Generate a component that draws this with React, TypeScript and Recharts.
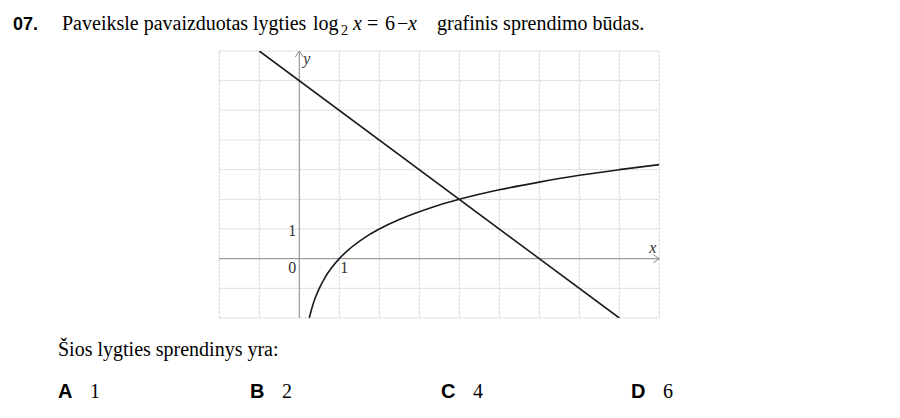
import { LineChart, Line, XAxis, YAxis, CartesianGrid, ReferenceLine, ReferenceDot } from 'recharts'

// grid / axis ticks
const xTicks = [-1, 0, 1, 2, 3, 4, 5, 6, 7, 8]
const yTicks = [-1, 0, 1, 2, 3, 4, 5, 6]

// y = 6 - x at its ends
const lineX = [-1, 8]
const lineY = [7, -2]

// y = log2 x
const logX = [0.25, 0.3, 0.35, 0.4, 0.5, 0.6, 0.7, 0.8, 1, 1.25, 1.5, 1.75, 2, 2.5, 3, 3.5, 4, 5, 6, 7, 8, 9]
const logY = [-2, -1.74, -1.51, -1.32, -1, -0.74, -0.51, -0.32, 0, 0.32, 0.58, 0.81, 1, 1.32, 1.58, 1.81, 2, 2.32, 2.58, 2.81, 3, 3.17]

const optionLetters = ['A', 'B', 'C', 'D']
const optionValues = ['1', '2', '4', '6']
const optionLeft = [58, 250, 441, 631]

const lineData = lineX.map((x, i) => ({ x, y: lineY[i] }))
const logData = logX.map((x, i) => ({ x, y: logY[i] }))

const serif = '"Liberation Serif", "Times New Roman", serif'
const sans = '"Liberation Sans", Arial, sans-serif'
const axisColor = '#8c8c8c'

const arrowUp = (p: any) => (
  <path d={`M${p.cx - 4},${p.cy + 6} L${p.cx},${p.cy} L${p.cx + 4},${p.cy + 6}`} fill='none' stroke={axisColor} strokeWidth={1} />
)
const arrowRight = (p: any) => (
  <path d={`M${p.cx - 6},${p.cy - 4} L${p.cx},${p.cy} L${p.cx - 6},${p.cy + 4}`} fill='none' stroke={axisColor} strokeWidth={1} />
)
const label = (text: string, dx: number, dy: number, italic = false, anchor = 'start') => (p: any) => (
  <text x={p.cx + dx} y={p.cy + dy} fontFamily={serif} fontSize={16} fontStyle={italic ? 'italic' : 'normal'} textAnchor={anchor} fill='#333'>
    {text}
  </text>
)

export default function App () {
  return (
    <div style={{ position: 'relative', width: 900, height: 418, background: '#fff', overflow: 'hidden' }}>
      <style>{'body{margin:0}'}</style>
      <LineChart
        width={900}
        height={418}
        margin={{ top: 51, right: 240.7, bottom: 100, left: 219.3 }}
        style={{ position: 'absolute', left: 0, top: 0 }}
      >
        <CartesianGrid stroke='#d6d6d6' strokeDasharray='3 1' />
        <XAxis type='number' dataKey='x' domain={[-2, 9]} ticks={xTicks} hide allowDataOverflow />
        <YAxis type='number' dataKey='y' domain={[-2, 7]} ticks={yTicks} hide allowDataOverflow />
        <ReferenceLine x={0} stroke={axisColor} strokeWidth={1} />
        <ReferenceLine y={0} stroke={axisColor} strokeWidth={1} />
        <ReferenceDot x={0} y={7} ifOverflow='visible' shape={arrowUp} />
        <ReferenceDot x={9} y={0} ifOverflow='visible' shape={arrowRight} />
        <ReferenceDot x={0} y={7} ifOverflow='visible' shape={label('y', 4, 13, true)} />
        <ReferenceDot x={9} y={0} ifOverflow='visible' shape={label('x', -10, -6, true)} />
        <ReferenceDot x={0} y={0} ifOverflow='visible' shape={label('0', -11, 14)} />
        <ReferenceDot x={1} y={0} ifOverflow='visible' shape={label('1', 1, 14)} />
        <ReferenceDot x={0} y={1} ifOverflow='visible' shape={label('1', -3, 7, false, 'end')} />
        <Line data={lineData} dataKey='y' type='linear' stroke='#1a1a1a' strokeWidth={1.6} dot={false} isAnimationActive={false} />
        <Line data={logData} dataKey='y' type='monotone' stroke='#1a1a1a' strokeWidth={1.6} dot={false} isAnimationActive={false} />
      </LineChart>
      <svg width={900} height={418} style={{ position: 'absolute', left: 0, top: 0, pointerEvents: 'none' }}>
        <text x={13} y={30} fontFamily={sans} fontWeight='bold' fontSize={18} fill='#000'>07.</text>
        <text x={62} y={30} fontFamily={serif} fontSize={20} fill='#000'>Paveiksle pavaizduotas lygties</text>
        <text x={313} y={30} fontFamily={serif} fontSize={20} fill='#000'>log</text>
        <text x={341} y={35} fontFamily={serif} fontSize={14} fill='#000'>2</text>
        <text x={353} y={30} fontFamily={serif} fontSize={20} fontStyle='italic' fill='#000'>x</text>
        <text x={367} y={30} fontFamily={serif} fontSize={20} fill='#000'>=</text>
        <text x={385} y={30} fontFamily={serif} fontSize={20} fill='#000'>6</text>
        <text x={397} y={30} fontFamily={serif} fontSize={20} fill='#000'>−</text>
        <text x={408} y={30} fontFamily={serif} fontSize={20} fontStyle='italic' fill='#000'>x</text>
        <text x={437} y={30} fontFamily={serif} fontSize={20} fill='#000'>grafinis sprendimo būdas.</text>
        <text x={58} y={356} fontFamily={serif} fontSize={20} fill='#000'>Šios lygties sprendinys yra:</text>
        {optionLetters.map((letter, i) => (
          <g key={letter}>
            <text x={optionLeft[i]} y={398} fontFamily={sans} fontWeight='bold' fontSize={20} fill='#000'>{letter}</text>
            <text x={optionLeft[i] + 32} y={398} fontFamily={serif} fontSize={20} fill='#000'>{optionValues[i]}</text>
          </g>
        ))}
      </svg>
    </div>
  )
}
